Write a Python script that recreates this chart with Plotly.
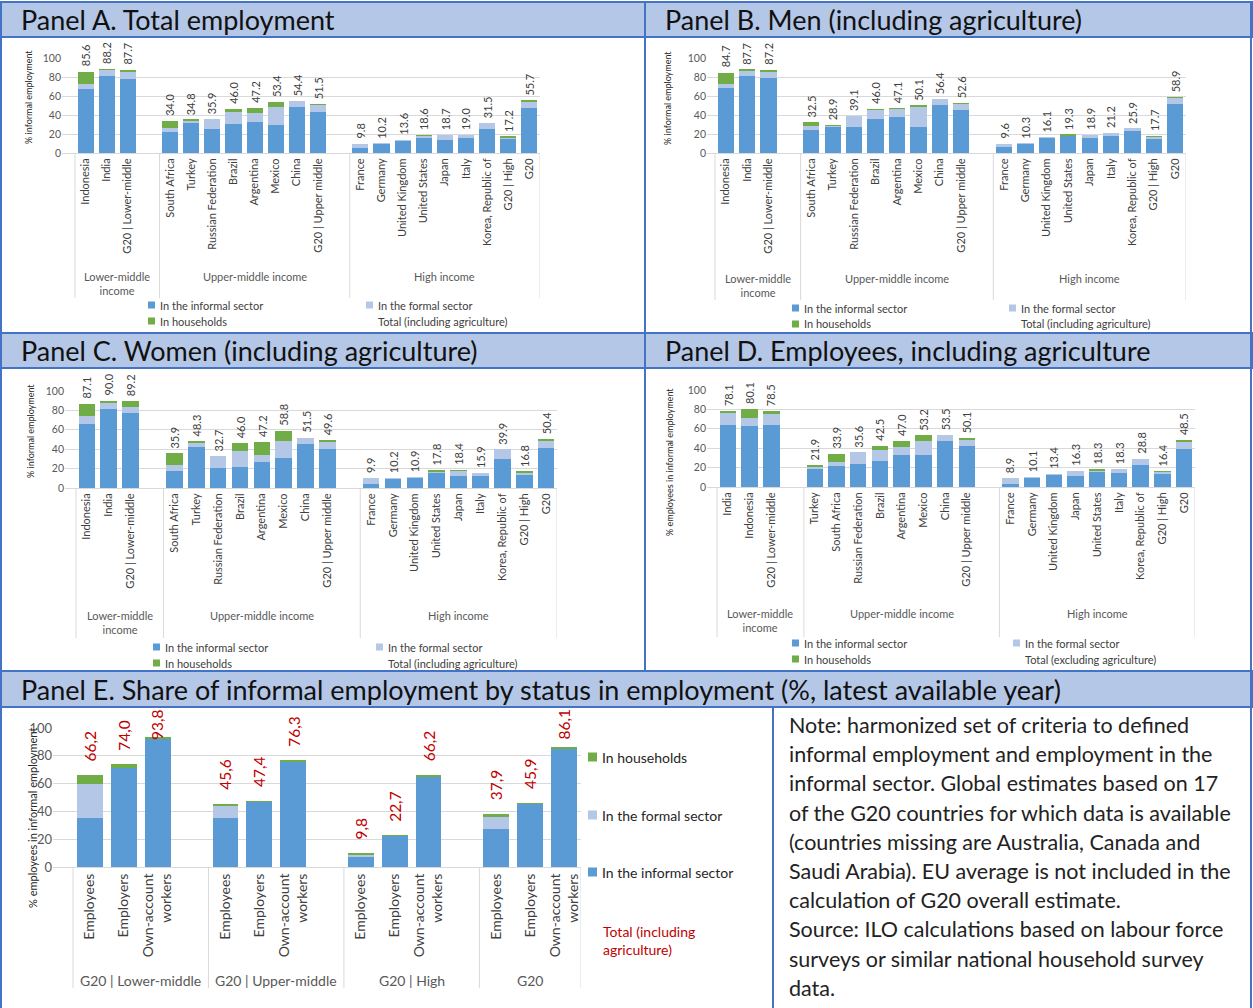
import plotly.graph_objects as go

W, H = 1253, 1008

# ---------------------------------------------------------------- data ----
INCOME_GROUPS = ["Lower-middle<br>income", "Upper-middle income", "High income"]

A_LOWER = ["Indonesia", "India", "G20 | Lower-middle"]
A_UPPER = ["South Africa", "Turkey", "Russian Federation", "Brazil", "Argentina",
           "Mexico", "China", "G20 | Upper middle"]
A_HIGH = ["France", "Germany", "United Kingdom", "United States", "Japan", "Italy",
          "Korea, Republic of", "G20 | High", "G20"]

# Panel A. Total employment
A_INFORMAL = [67.7, 80.7, 78.2, 21.8, 32.6, 25.3, 30.5, 33.0, 29.5, 48.4, 43.2,
              5.3, 9.9, 13.3, 16.7, 13.8, 15.6, 25.2, 14.9, 47.9]
A_FORMAL = [4.9, 7.0, 6.7, 4.5, 1.2, 10.6, 12.3, 8.8, 19.3, 6.0, 7.7,
            4.5, 0.3, 0.3, 1.3, 4.9, 3.4, 6.3, 1.8, 6.8]
A_HOUSEHOLDS = [13.0, 0.5, 2.8, 7.7, 1.0, 0.0, 3.2, 5.4, 4.6, 0.0, 0.6,
                0.0, 0.0, 0.0, 0.6, 0.0, 0.0, 0.0, 0.5, 1.0]
A_TOTAL = [85.6, 88.2, 87.7, 34.0, 34.8, 35.9, 46.0, 47.2, 53.4, 54.4, 51.5,
           9.8, 10.2, 13.6, 18.6, 18.7, 19.0, 31.5, 17.2, 55.7]

# Panel B. Men
B_INFORMAL = [68.4, 80.7, 78.6, 24.6, 28.2, 27.7, 36.1, 37.9, 27.7, 50.2, 44.9,
              6.3, 10.0, 15.8, 18.2, 15.4, 17.9, 23.2, 15.4, 51.9]
B_FORMAL = [4.2, 6.3, 6.7, 3.5, 0.5, 11.4, 9.2, 8.8, 21.4, 6.2, 7.0,
            3.3, 0.3, 0.3, 0.5, 3.5, 3.3, 2.7, 1.8, 6.0]
B_HOUSEHOLDS = [12.1, 0.7, 1.9, 4.4, 0.2, 0.0, 0.7, 0.4, 1.0, 0.0, 0.7,
                0.0, 0.0, 0.0, 0.6, 0.0, 0.0, 0.0, 0.5, 1.0]
B_TOTAL = [84.7, 87.7, 87.2, 32.5, 28.9, 39.1, 46.0, 47.1, 50.1, 56.4, 52.6,
           9.6, 10.3, 16.1, 19.3, 18.9, 21.2, 25.9, 17.7, 58.9]

# Panel C. Women
C_INFORMAL = [65.6, 81.8, 77.7, 17.2, 42.3, 21.0, 21.6, 26.8, 30.9, 45.7, 40.5,
              4.5, 9.9, 10.6, 15.5, 12.7, 12.7, 30.2, 13.7, 41.6]
C_FORMAL = [8.3, 6.5, 5.8, 6.2, 4.1, 11.7, 16.2, 7.6, 17.2, 5.8, 7.6,
            5.4, 0.3, 0.3, 1.6, 5.2, 3.2, 9.7, 2.6, 7.0]
C_HOUSEHOLDS = [13.2, 1.7, 5.7, 12.5, 1.9, 0.0, 8.2, 12.8, 10.7, 0.0, 1.5,
                0.0, 0.0, 0.0, 0.7, 0.5, 0.0, 0.0, 0.5, 1.8]
C_TOTAL = [87.1, 90.0, 89.2, 35.9, 48.3, 32.7, 46.0, 47.2, 58.8, 51.5, 49.6,
           9.9, 10.2, 10.9, 17.8, 18.4, 15.9, 39.9, 16.8, 50.4]

# Panel D. Employees
D_LOWER = ["India", "Indonesia", "G20 | Lower-middle"]
D_UPPER = ["Turkey", "South Africa", "Russian Federation", "Brazil", "Argentina",
           "Mexico", "China", "G20 | Upper middle"]
D_HIGH = ["France", "Germany", "United Kingdom", "Japan", "United States", "Italy",
          "Korea, Republic of", "G20 | High", "G20"]
D_INFORMAL = [63.8, 62.8, 63.8, 19.0, 21.4, 24.1, 26.6, 32.8, 33.4, 47.6, 42.4,
              3.5, 9.8, 13.1, 11.5, 15.6, 14.9, 22.9, 13.5, 39.2]
D_FORMAL = [12.1, 7.9, 11.0, 2.4, 4.5, 11.5, 11.3, 8.6, 14.2, 5.9, 6.2,
            5.4, 0.3, 0.3, 4.8, 1.7, 3.4, 5.9, 2.3, 7.5]
D_HOUSEHOLDS = [2.2, 9.4, 3.7, 0.5, 8.0, 0.0, 4.6, 5.6, 5.6, 0.0, 1.5,
                0.0, 0.0, 0.0, 0.0, 1.0, 0.0, 0.0, 0.6, 1.8]
D_TOTAL = [78.1, 80.1, 78.5, 21.9, 33.9, 35.6, 42.5, 47.0, 53.2, 53.5, 50.1,
           8.9, 10.1, 13.4, 16.3, 18.3, 18.3, 28.8, 16.4, 48.5]

# Panel E. Status in employment
E_GROUPS = ["G20 | Lower-middle", "G20 | Upper-middle", "G20 | High", "G20"]
E_STATUS = ["Employees", "Employers", "Own-account<br>workers"]
E_INFORMAL = [34.9, 71.2, 92.8, 35.3, 47.0, 76.0, 7.5, 22.6, 65.4, 27.4, 45.6, 85.1]
E_FORMAL = [25.0, 0.0, 0.0, 8.9, 0.0, 0.0, 1.6, 0.0, 0.0, 8.7, 0.0, 0.0]
E_HOUSEHOLDS = [6.3, 2.8, 1.0, 1.4, 0.4, 0.3, 0.7, 0.1, 0.8, 1.8, 0.3, 1.0]
E_TOTAL = [66.2, 74.0, 93.8, 45.6, 47.4, 76.3, 9.8, 22.7, 66.2, 37.9, 45.9, 86.1]

NOTE_LINES = [
    "Note: harmonized set of criteria to defined",
    "informal employment and employment in the",
    "informal sector. Global estimates based on 17",
    "of the G20 countries for which data is available",
    "(countries missing are Australia, Canada and",
    "Saudi Arabia). EU average is not included in the",
    "calculation of G20 overall estimate.",
    "Source: ILO calculations based on labour force",
    "surveys or similar national household survey",
    "data.",
]

# --------------------------------------------------------------- style ----
BLUE, LIGHT, GREEN = "#5b9bd5", "#b4c7e7", "#70ad47"
FRAME, BAND = "#4472c4", "#b4c7e7"
GRID, TXT, TICK, RED = "#d9d9d9", "#404040", "#595959", "#c00000"
FONT = "Lato, sans-serif"


def px(x):
    return x / W


def py(y):
    return 1 - y / H


def slot_layout(sizes):
    """Category slots with one empty slot between consecutive groups."""
    pos, bounds, centers = [], [-0.5], []
    s = 0
    for gi, n in enumerate(sizes):
        start = s
        pos.extend(range(s, s + n))
        s += n
        if gi < len(sizes) - 1:
            s += 1
        bounds.append(s - 0.5)
        centers.append((start + s - 1) / 2)
    return pos, bounds, centers, s


fig = go.Figure()
layout = {}


def add_panel(k, groups, group_names, informal, formal, households, totals, box,
              grid_x0, sep_bottom, group_y, tick_size, label_fmt, label_font,
              label_y, label_shift, ytitle, ytitle_xy, ytitle_size, ytick_size,
              group_size):
    xa = "x" if k == 1 else f"x{k}"
    ya = "y" if k == 1 else f"y{k}"
    x0, x1, y0, y1 = box
    pos, bounds, centers, nslots = slot_layout([len(g) for g in groups])
    names = [c for g in groups for c in g]
    slot_w = (x1 - x0) / nslots
    for vals, col in ((informal, BLUE), (formal, LIGHT), (households, GREEN)):
        fig.add_trace(go.Bar(x=pos, y=vals, marker=dict(color=col, line=dict(width=0)),
                             xaxis=xa, yaxis=ya, hoverinfo="skip"))
    layout["xaxis" if k == 1 else f"xaxis{k}"] = dict(
        domain=[px(grid_x0), px(x1)],
        range=[-0.5 - (x0 - grid_x0) / slot_w, nslots - 0.5], anchor=ya,
        tickmode="array", tickvals=pos, ticktext=names, tickangle=-90,
        tickfont=dict(size=tick_size, color=TXT, family=FONT),
        showgrid=False, zeroline=False, showline=True, linecolor=GRID, linewidth=1,
        ticks="", fixedrange=True)
    layout["yaxis" if k == 1 else f"yaxis{k}"] = dict(
        domain=[py(y1), py(y0)], range=[0, 100], anchor=xa,
        tickmode="array", tickvals=[0, 20, 40, 60, 80, 100],
        tickfont=dict(size=ytick_size, color=TICK, family=FONT),
        showgrid=True, gridcolor=GRID, gridwidth=1, zeroline=False, showline=False,
        ticks="", fixedrange=True)
    # value labels above the stacks
    for p, t in zip(pos, totals):
        fig.add_annotation(x=p, y=label_y(t), xref=xa, yref=ya, text=label_fmt(t),
                           textangle=-90, showarrow=False, xanchor="center",
                           yanchor="bottom", yshift=label_shift, font=label_font)
    # group dividers of the category axis
    for b in bounds:
        fig.add_shape(type="line", xref=xa, yref="paper", x0=b, x1=b,
                      y0=py(y1), y1=py(sep_bottom), line=dict(color=GRID, width=1))
    for c, g in zip(centers, group_names):
        fig.add_annotation(x=c, y=py(group_y), xref=xa, yref="paper", text=g,
                           showarrow=False, xanchor="center", yanchor="top",
                           font=dict(size=group_size, color=TICK, family=FONT))
    fig.add_annotation(x=px(ytitle_xy[0]), y=py(ytitle_xy[1]), xref="paper", yref="paper",
                       text=ytitle, textangle=-90, showarrow=False,
                       xanchor="center", yanchor="middle",
                       font=dict(size=ytitle_size, color="#262626", family=FONT))


def legend_item(x, y, color, text, size=11, textcolor=TXT, sq=7):
    if color:
        fig.add_shape(type="rect", xref="paper", yref="paper",
                      x0=px(x), x1=px(x + sq), y0=py(y + sq / 2), y1=py(y - sq / 2),
                      fillcolor=color, line=dict(width=0))
    fig.add_annotation(x=px(x + sq + 3), y=py(y), xref="paper", yref="paper", text=text,
                       showarrow=False, xanchor="left", yanchor="middle", align="left",
                       font=dict(size=size, color=textcolor, family=FONT))


def dot_fmt(v):
    return f"{v:.1f}"


def comma_fmt(v):
    return f"{v:.1f}".replace(".", ",")


val_font = dict(size=11, color=TXT, family=FONT)

panels = [
    (1, [A_LOWER, A_UPPER, A_HIGH], A_INFORMAL, A_FORMAL, A_HOUSEHOLDS, A_TOTAL,
     (75, 540, 58, 153), 62, 298, 268, (29, 97), "% informal employment"),
    (2, [A_LOWER, A_UPPER, A_HIGH], B_INFORMAL, B_FORMAL, B_HOUSEHOLDS, B_TOTAL,
     (715, 1186, 58, 153), 707, 300, 270, (668, 98), "% informal employment"),
    (3, [A_LOWER, A_UPPER, A_HIGH], C_INFORMAL, C_FORMAL, C_HOUSEHOLDS, C_TOTAL,
     (76, 557, 391, 488), 65, 638, 607, (30, 431), "% informal employment"),
    (4, [D_LOWER, D_UPPER, D_HIGH], D_INFORMAL, D_FORMAL, D_HOUSEHOLDS, D_TOTAL,
     (717, 1195, 390, 487), 707, 637, 605, (670, 462), "% employees in informal employment"),
]
for k, groups, inf, frm, hh, tot, box, gx0, sepb, gy, yt_xy, yt in panels:
    add_panel(k, groups, INCOME_GROUPS, inf, frm, hh, tot, box, gx0, sepb, gy, 11,
              dot_fmt, val_font, lambda v: v, 3, yt, yt_xy, 9, 10.5, 11)

# labels that would leave the chart area are held at a ceiling
add_panel(5, [E_STATUS] * 4, E_GROUPS, E_INFORMAL, E_FORMAL, E_HOUSEHOLDS, E_TOTAL,
          (73, 581, 728, 867), 53, 988, 970, 14, comma_fmt,
          dict(size=15.5, color=RED, family=FONT), lambda v: min(v + 8.5, 90), 0,
          "% employees in informal employment", (32, 818), 11, 13, 14)

# ------------------------------------------------------------- legends ----
for (xi, yi, xf, yf, total_text) in [
        (148, 305, 366, 305, "Total (including agriculture)"),
        (792, 308, 1009, 308, "Total (including agriculture)"),
        (153, 647, 376, 647, "Total (including agriculture)"),
        (792, 643, 1013, 643, "Total (excluding agriculture)")]:
    legend_item(xi, yi, BLUE, "In the informal sector")
    legend_item(xi, yi + 16, GREEN, "In households")
    legend_item(xf, yf, LIGHT, "In the formal sector")
    legend_item(xf, yf + 16, None, total_text)

legend_item(588, 757, GREEN, "In households", size=14, textcolor="#262626", sq=9)
legend_item(588, 815, LIGHT, "In the formal sector", size=14, textcolor="#262626", sq=9)
legend_item(588, 872, BLUE, "In the informal sector", size=14, textcolor="#262626", sq=9)
legend_item(589, 940, None, "Total (including<br>agriculture)", size=14, textcolor=RED, sq=9)

# ----------------------------------------------------- frames and titles ----
def band(x0, x1, y0, y1, title):
    fig.add_shape(type="rect", xref="paper", yref="paper", x0=px(x0), x1=px(x1),
                  y0=py(y1), y1=py(y0), fillcolor=BAND, line=dict(color=FRAME, width=2),
                  layer="below")
    fig.add_annotation(x=px(x0 + 18), y=py((y0 + y1) / 2), xref="paper", yref="paper",
                       text=title, showarrow=False, xanchor="left", yanchor="middle",
                       font=dict(size=27, color="#111111", family=FONT))


def vline(x, y0, y1):
    fig.add_shape(type="line", xref="paper", yref="paper", x0=px(x), x1=px(x),
                  y0=py(y0), y1=py(y1), line=dict(color=FRAME, width=2))


band(1, 645, 2, 37, "Panel A. Total employment")
band(645, 1252, 2, 37, "Panel B. Men (including agriculture)")
band(1, 645, 333, 368, "Panel C. Women (including agriculture)")
band(645, 1252, 333, 368, "Panel D. Employees, including agriculture")
band(1, 1252, 671, 707, "Panel E. Share of informal employment by status in employment (%, latest available year)")
vline(1, 2, 1008)
vline(645, 2, 671)
vline(1251, 2, 1008)
vline(773, 707, 1008)

for i, line in enumerate(NOTE_LINES):
    fig.add_annotation(x=px(787), y=py(725 + i * 29.2), xref="paper", yref="paper",
                       text=line, showarrow=False, xanchor="left", yanchor="middle",
                       font=dict(size=21.5, color="#222222", family=FONT))

layout.update(
    width=W, height=H, autosize=False, margin=dict(l=0, r=0, t=0, b=0),
    paper_bgcolor="white", plot_bgcolor="white", barmode="stack", bargap=0.24,
    showlegend=False, template="none", font=dict(family=FONT),
)
fig.update_layout(**layout)
fig.write_html("out.html", config={"displayModeBar": False})
